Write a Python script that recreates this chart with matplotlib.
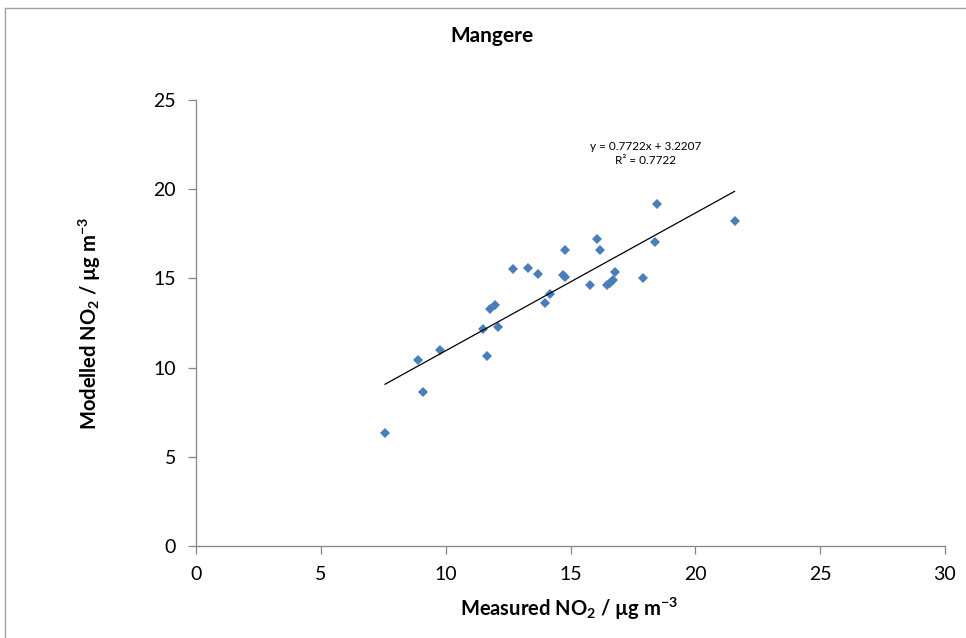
import matplotlib
matplotlib.use("Agg")
import matplotlib.pyplot as plt
from matplotlib.lines import Line2D

plt.rcParams['font.family'] = ['Lato', 'DejaVu Sans']
plt.rcParams['mathtext.fontset'] = 'custom'
plt.rcParams['mathtext.rm'] = 'Lato'
plt.rcParams['mathtext.bf'] = 'Lato:bold'

# measured vs modelled NO2 at Mangere sites
measured = [7.57, 8.89, 9.09, 9.77, 11.49, 11.65, 11.77, 11.97, 12.08, 12.68,
            13.28, 13.68, 13.98, 14.18, 14.68, 14.77, 14.78, 15.78, 16.08, 16.18,
            16.47, 16.58, 16.69, 16.78, 17.89, 18.37, 18.46, 21.57]
modelled = [6.33, 10.43, 8.63, 10.99, 12.16, 10.65, 13.28, 13.51, 12.29, 15.51,
            15.60, 15.25, 13.60, 14.13, 15.19, 15.06, 16.59, 14.65, 17.19, 16.61,
            14.61, 14.76, 14.91, 15.38, 15.04, 17.06, 19.15, 18.22]

slope = 0.7722
intercept = 3.2207
r2 = 0.7722

x_ticks = [0, 5, 10, 15, 20, 25, 30]
y_ticks = [0, 5, 10, 15, 20, 25]

fig = plt.figure(figsize=(9.66, 6.38), dpi=100)
ax = fig.add_axes([196/966, 1 - 546/638, 749/966, 446/638])

ax.plot(measured, modelled, linestyle='none', marker='D', ms=5.2,
        color='#4a7ebb', markeredgewidth=0)

xa = min(measured)
xb = max(measured)
ax.plot([xa, xb], [slope*xa + intercept, slope*xb + intercept], color='black', lw=0.9)

ax.text(18.0, 22.0, 'y = 0.7722x + 3.2207\nR² = %.4f' % r2, ha='center', va='center',
        fontsize=8.5, linespacing=1.3)

ax.set_xlim(0, 30)
ax.set_ylim(0, 25)
ax.set_xticks(x_ticks)
ax.set_yticks(y_ticks)
ax.tick_params(axis='both', direction='out', length=5.5, width=0.9, color='#868686',
               labelsize=14, pad=9)
for s in ['top', 'right']:
    ax.spines[s].set_visible(False)
for s in ['left', 'bottom']:
    ax.spines[s].set_color('#868686')
    ax.spines[s].set_linewidth(0.9)

fig.text(492/966, 1 - 36/638, 'Mangere', ha='center', va='center', fontsize=15, fontweight='bold')
fig.text(569/966, 1 - 609/638, r'Measured NO$_\mathbf{2}$ / µg m$^\mathbf{-3}$', ha='center', va='center',
         fontsize=14.5, fontweight='bold')
fig.text(90/966, 1 - 323/638, r'Modelled NO$_\mathbf{2}$ / µg m$^\mathbf{-3}$', ha='center', va='center',
         rotation=90, fontsize=14.5, fontweight='bold')

# chart area border (left and top edges visible)
fig.add_artist(Line2D([5/966, 5/966], [0, 1 - 8/638], transform=fig.transFigure, color='#a0a0a0', lw=1))
fig.add_artist(Line2D([5/966, 1], [1 - 8/638, 1 - 8/638], transform=fig.transFigure, color='#a0a0a0', lw=1))

fig.savefig('out.png', dpi=100)
